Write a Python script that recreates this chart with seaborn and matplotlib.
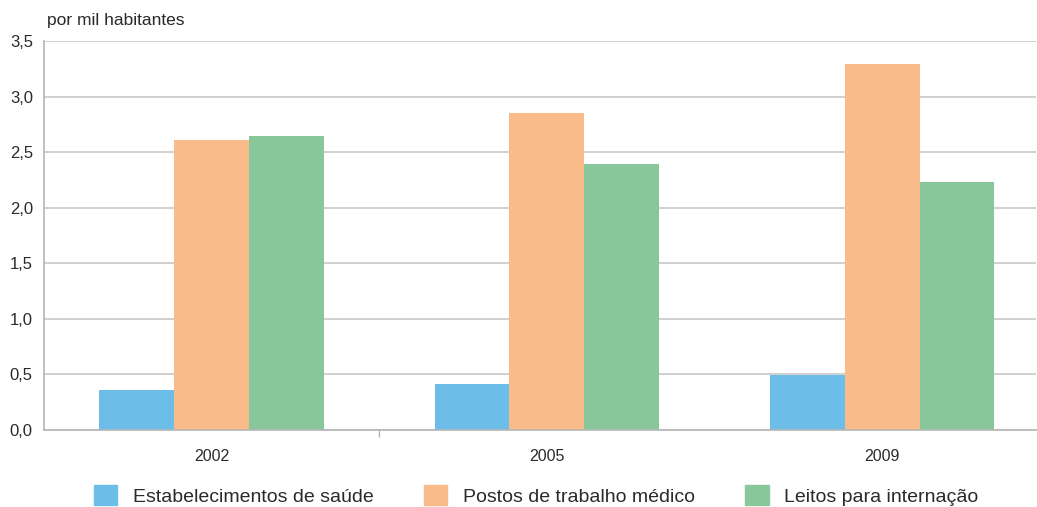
import numpy as np
import pandas as pd
import matplotlib.pyplot as plt
import seaborn as sns
from matplotlib.ticker import FuncFormatter, FixedLocator

anos = ['2002', '2005', '2009']
estabelecimentos = [0.36, 0.41, 0.49]
postos = [2.61, 2.85, 3.29]
leitos = [2.65, 2.39, 2.23]
series = ['Estabelecimentos de saúde', 'Postos de trabalho médico', 'Leitos para internação']
cores = ['#6CBEE8', '#F9BB89', '#88C799']

df = pd.DataFrame({
    'ano': anos * 3,
    'valor': estabelecimentos + postos + leitos,
    'serie': [series[0]] * 3 + [series[1]] * 3 + [series[2]] * 3,
})

sns.set_style('white')
plt.rcParams['font.family'] = ['Liberation Sans', 'DejaVu Sans']

fig = plt.figure(figsize=(10.37, 5.07), dpi=100)
ax = fig.add_axes([0.0424, 0.152, 0.957, 0.767])

sns.barplot(data=df, x='ano', y='valor', hue='serie', palette=cores,
            width=0.67, saturation=1, linewidth=0, ax=ax, legend=False, zorder=2)

ax.set_ylim(0, 3.5)
ax.set_xlim(-0.5, 2.46)
ax.set_yticks(np.arange(0, 3.51, 0.5))
ax.yaxis.set_major_formatter(FuncFormatter(lambda v, p: f'{v:.1f}'.replace('.', ',')))
ax.grid(axis='y', color='#c8c8c8', linewidth=1.2, zorder=0)
ax.set_axisbelow(True)
ax.set_xlabel('')
ax.set_ylabel('')

for s in ['top', 'right']:
    ax.spines[s].set_visible(False)
for s in ['left', 'bottom']:
    ax.spines[s].set_color('#b5b5b5')
    ax.spines[s].set_linewidth(1.2)

ax.tick_params(axis='y', length=0, labelsize=12, labelcolor='#2a2a2a', pad=8)
ax.tick_params(axis='x', length=0, labelsize=11.5, labelcolor='#2a2a2a', pad=14)
ax.xaxis.set_minor_locator(FixedLocator([0.5]))
ax.tick_params(axis='x', which='minor', bottom=True, length=5, color='#b5b5b5', width=1)

fig.text(0.045, 0.96, 'por mil habitantes', fontsize=12.5, color='#2a2a2a', va='center')

handles = [plt.Rectangle((0, 0), 1, 1, color=c) for c in cores]
fig.legend(handles, series, loc='center', bbox_to_anchor=(0.517, 0.023), ncol=3,
           frameon=False, fontsize=14, handlelength=1.2, handleheight=1.2,
           columnspacing=2.6, handletextpad=0.8, labelcolor='#2a2a2a')

fig.savefig('out.png', dpi=100)
